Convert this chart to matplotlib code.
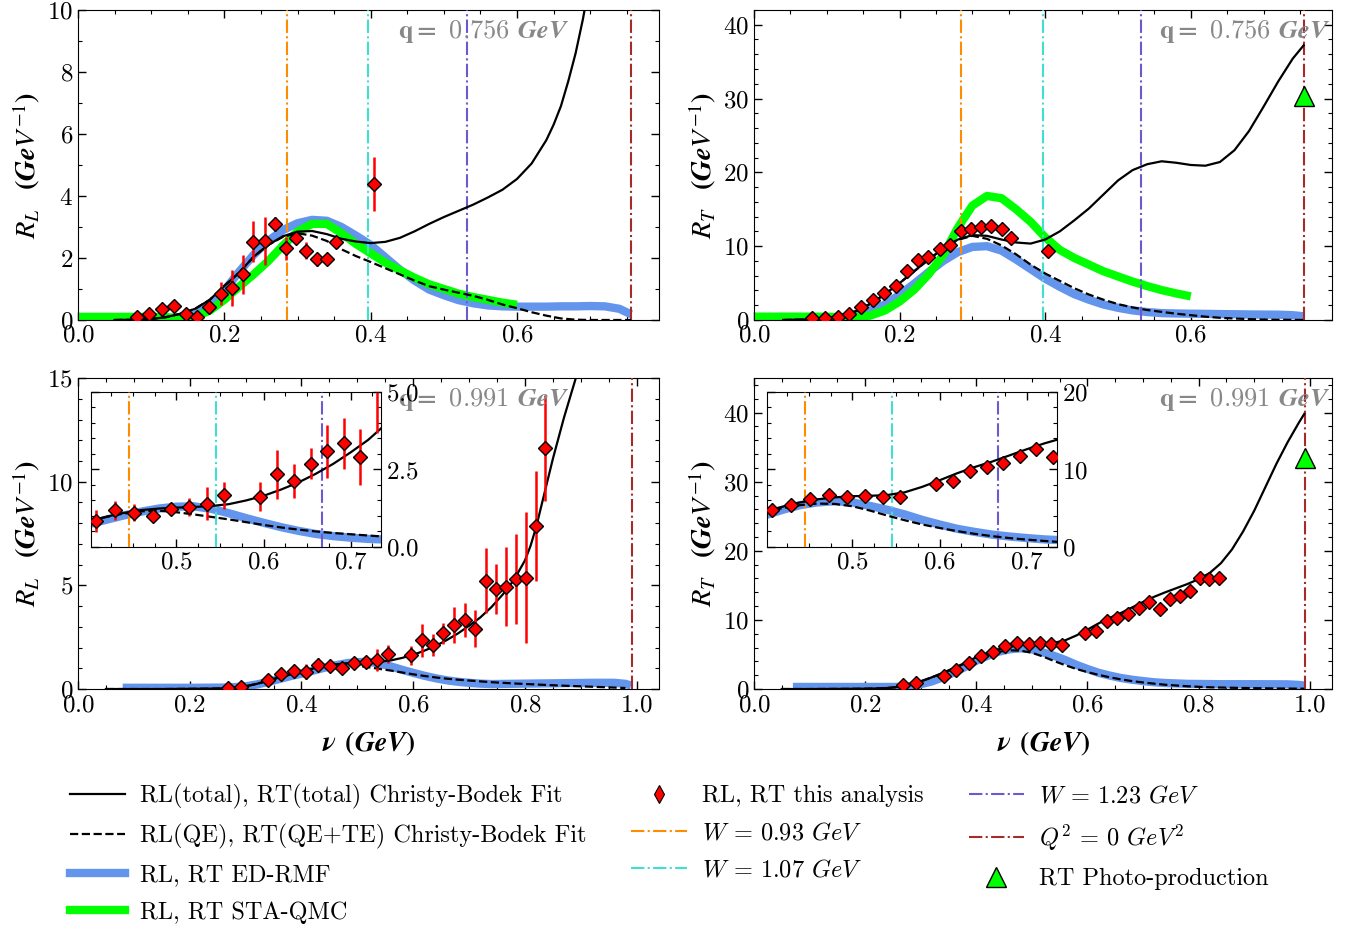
# R_L and R_T response functions at q = 0.756 and 0.991 GeV

import matplotlib
matplotlib.use('Agg')
import matplotlib.pyplot as plt
from matplotlib.lines import Line2D
from matplotlib.ticker import MultipleLocator, AutoMinorLocator

plt.rcParams.update({
    'font.family': 'serif',
    'font.serif': ['cmr10'],
    'mathtext.fontset': 'cm',
    'axes.formatter.use_mathtext': True,
    'font.size': 18,
})

# ---------------- q = 0.756 GeV ----------------
nu_756_data = [0.080, 0.097, 0.115, 0.131, 0.147, 0.163, 0.179, 0.195, 0.210, 0.225,
               0.239, 0.255, 0.269, 0.284, 0.298, 0.312, 0.326, 0.340, 0.353, 0.404]
RL_756_data = [0.09, 0.18, 0.35, 0.46, 0.18, 0.11, 0.43, 0.85, 1.02, 1.47,
               2.53, 2.55, 3.09, 2.31, 2.63, 2.23, 1.96, 1.96, 2.53, 4.40]
RL_756_err = [0.05, 0.05, 0.08, 0.08, 0.10, 0.10, 0.15, 0.37, 0.58, 0.64,
              0.66, 0.77, 0.22, 0.38, 0.12, 0.27, 0.21, 0.10, 0.15, 0.87]
RT_756_data = [0.23, 0.23, 0.45, 0.77, 1.82, 2.73, 3.64, 4.64, 6.59, 8.09,
               8.50, 9.68, 10.2, 12.05, 12.27, 12.64, 12.73, 12.36, 11.05, 9.41]
RT_756_err = [0.1, 0.1, 0.1, 0.15, 0.2, 0.2, 0.2, 0.25, 0.3, 0.3,
              0.3, 0.3, 0.3, 0.35, 0.35, 0.35, 0.35, 0.35, 0.35, 0.4]

nu_RL_756_tot = [0.05, 0.08, 0.10, 0.12, 0.14, 0.16, 0.18, 0.20, 0.22, 0.24, 0.26,
                 0.28, 0.30, 0.32, 0.34, 0.36, 0.38, 0.40, 0.42, 0.44, 0.46, 0.48,
                 0.50, 0.52, 0.54, 0.56, 0.58, 0.60, 0.62, 0.64, 0.65, 0.66, 0.67,
                 0.68, 0.69, 0.70]
RL_756_tot = [0.0, 0.01, 0.03, 0.09, 0.2, 0.36, 0.65, 1.1, 1.52, 2.04, 2.42,
              2.7, 2.85, 2.87, 2.77, 2.62, 2.53, 2.48, 2.52, 2.65, 2.86, 3.1,
              3.32, 3.52, 3.72, 3.95, 4.2, 4.55, 5.05, 5.8, 6.3, 6.9, 7.7,
              8.6, 9.7, 11.0]

nu_RL_756_qe = [0.05, 0.08, 0.10, 0.12, 0.14, 0.16, 0.18, 0.20, 0.22, 0.24, 0.26,
                0.28, 0.30, 0.32, 0.34, 0.36, 0.38, 0.40, 0.42, 0.44, 0.46, 0.48,
                0.50, 0.52, 0.54, 0.56, 0.58, 0.60, 0.62, 0.64, 0.66, 0.68, 0.70,
                0.72, 0.74, 0.756]
RL_756_qe = [0.0, 0.01, 0.03, 0.09, 0.2, 0.36, 0.65, 1.1, 1.52, 2.04, 2.42,
             2.68, 2.8, 2.72, 2.55, 2.28, 2.06, 1.87, 1.67, 1.47, 1.27, 1.09,
             0.98, 0.88, 0.78, 0.65, 0.5, 0.38, 0.25, 0.14, 0.05, 0.01, 0.0,
             0.0, 0.0, 0.0]

nu_RL_756_rmf = [0.08, 0.12, 0.14, 0.16, 0.18, 0.20, 0.22, 0.24, 0.26, 0.28, 0.30,
                 0.32, 0.34, 0.36, 0.38, 0.40, 0.42, 0.44, 0.46, 0.48, 0.50, 0.52,
                 0.54, 0.56, 0.58, 0.60, 0.62, 0.64, 0.66, 0.68, 0.70, 0.72, 0.74,
                 0.756]
RL_756_rmf = [0.03, 0.05, 0.08, 0.17, 0.45, 0.95, 1.55, 2.1, 2.55, 2.9, 3.12,
              3.23, 3.2, 3.0, 2.72, 2.42, 2.02, 1.62, 1.27, 0.98, 0.8, 0.64,
              0.54, 0.47, 0.44, 0.43, 0.43, 0.43, 0.44, 0.44, 0.45, 0.44, 0.36,
              0.18]

nu_RL_756_qmc = [0.0, 0.04, 0.08, 0.12, 0.14, 0.16, 0.18, 0.20, 0.22, 0.24, 0.26,
                 0.28, 0.30, 0.32, 0.34, 0.36, 0.38, 0.40, 0.42, 0.44, 0.46, 0.48,
                 0.50, 0.52, 0.54, 0.56, 0.58, 0.60]
RL_756_qmc = [0.1, 0.1, 0.1, 0.09, 0.06, 0.1, 0.3, 0.65, 1.07, 1.47, 1.9,
              2.4, 2.85, 3.1, 3.1, 2.8, 2.45, 2.15, 1.85, 1.6, 1.36, 1.15,
              1.0, 0.85, 0.74, 0.65, 0.56, 0.49]

nu_RT_756_tot = [0.04, 0.08, 0.10, 0.12, 0.14, 0.16, 0.18, 0.20, 0.22, 0.24, 0.26,
                 0.28, 0.30, 0.32, 0.34, 0.36, 0.38, 0.40, 0.42, 0.44, 0.46, 0.48,
                 0.50, 0.52, 0.54, 0.56, 0.58, 0.60, 0.62, 0.64, 0.66, 0.68, 0.70,
                 0.72, 0.74, 0.755]
RT_756_tot = [0.0, 0.1, 0.25, 0.55, 1.2, 2.2, 3.5, 5.0, 6.6, 8.2, 9.7,
              10.9, 11.5, 11.4, 10.9, 10.5, 10.35, 10.9, 12.0, 13.5, 15.1, 17.0,
              18.9, 20.3, 21.1, 21.5, 21.3, 21.0, 20.9, 21.4, 23.0, 25.6, 28.9,
              32.3, 35.4, 37.2]
RT_756_qe = [0.0, 0.1, 0.25, 0.55, 1.2, 2.2, 3.5, 5.0, 6.6, 8.2, 9.7,
             10.85, 11.4, 11.0, 10.1, 8.9, 7.5, 6.3, 5.3, 4.3, 3.45, 2.75,
             2.15, 1.7, 1.35, 1.1, 0.85, 0.65, 0.45, 0.3, 0.2, 0.12, 0.06,
             0.03, 0.02, 0.0]

nu_RT_756_rmf = [0.08, 0.10, 0.12, 0.14, 0.16, 0.18, 0.20, 0.22, 0.24, 0.26, 0.28,
                 0.30, 0.32, 0.34, 0.36, 0.38, 0.40, 0.42, 0.44, 0.46, 0.48, 0.50,
                 0.52, 0.54, 0.56, 0.58, 0.60, 0.62, 0.64, 0.66, 0.68, 0.70, 0.72,
                 0.74, 0.755]
RT_756_rmf = [0.05, 0.1, 0.3, 0.7, 1.3, 2.1, 3.4, 4.9, 6.5, 8.0, 9.2,
              9.9, 10.0, 9.4, 8.2, 6.9, 5.6, 4.5, 3.5, 2.75, 2.1, 1.65,
              1.3, 1.08, 0.93, 0.88, 0.85, 0.83, 0.8, 0.78, 0.75, 0.73, 0.72,
              0.65, 0.5]

nu_RT_756_qmc = [0.0, 0.04, 0.08, 0.12, 0.14, 0.16, 0.18, 0.20, 0.22, 0.24, 0.26,
                 0.28, 0.30, 0.32, 0.34, 0.36, 0.38, 0.40, 0.42, 0.44, 0.46, 0.48,
                 0.50, 0.52, 0.54, 0.56, 0.58, 0.60]
RT_756_qmc = [0.45, 0.45, 0.45, 0.4, 0.4, 0.6, 1.3, 2.5, 4.1, 6.2, 8.8,
              12.5, 15.5, 16.8, 16.5, 15.0, 13.3, 11.2, 9.5, 8.4, 7.5, 6.6,
              5.9, 5.2, 4.6, 4.05, 3.6, 3.2]

# ---------------- q = 0.991 GeV ----------------
nu_991_data = [0.268, 0.291, 0.341, 0.364, 0.386, 0.408, 0.430, 0.451, 0.473, 0.494,
               0.515, 0.535, 0.555, 0.596, 0.616, 0.635, 0.654, 0.673, 0.692, 0.711,
               0.730, 0.748, 0.766, 0.784, 0.802, 0.819, 0.836]
RL_991_data = [0.04, 0.12, 0.43, 0.72, 0.88, 0.84, 1.18, 1.10, 1.00, 1.24,
               1.29, 1.40, 1.67, 1.62, 2.35, 2.12, 2.68, 3.08, 3.34, 2.90,
               5.23, 4.82, 4.93, 5.31, 5.37, 7.88, 11.64]
RL_991_err = [0.05, 0.05, 0.12, 0.25, 0.30, 0.36, 0.30, 0.27, 0.15, 0.19,
              0.28, 0.54, 0.43, 0.47, 0.79, 0.55, 0.50, 0.87, 0.83, 0.89,
              1.55, 1.20, 1.90, 2.15, 3.15, 2.65, 2.55]
RT_991_data = [0.59, 0.83, 1.95, 2.8, 3.8, 4.8, 5.4, 6.2, 6.7, 6.5,
               6.6, 6.5, 6.4, 8.1, 8.45, 9.8, 10.3, 10.85, 11.75, 12.6,
               11.6, 13.0, 13.45, 14.2, 16.1, 15.9, 16.1]
RT_991_err = [0.1, 0.1, 0.15, 0.2, 0.2, 0.2, 0.25, 0.25, 0.25, 0.25,
              0.25, 0.25, 0.25, 0.3, 0.3, 0.3, 0.3, 0.35, 0.35, 0.4,
              0.5, 0.5, 0.5, 0.6, 0.9, 0.7, 0.7]

nu_RL_991_tot = [0.05, 0.10, 0.15, 0.20, 0.24, 0.26, 0.28, 0.30, 0.32, 0.34, 0.36,
                 0.38, 0.40, 0.42, 0.44, 0.46, 0.48, 0.50, 0.52, 0.54, 0.56, 0.58,
                 0.60, 0.62, 0.64, 0.66, 0.68, 0.70, 0.72, 0.74, 0.76, 0.78, 0.80,
                 0.81, 0.82, 0.83, 0.84, 0.85, 0.86, 0.87, 0.88, 0.89, 0.90]
RL_991_tot = [0.0, 0.0, 0.0, 0.01, 0.02, 0.03, 0.07, 0.13, 0.25, 0.4, 0.56,
              0.7, 0.83, 0.98, 1.1, 1.19, 1.24, 1.27, 1.29, 1.32, 1.38, 1.5,
              1.65, 1.85, 2.08, 2.36, 2.68, 3.05, 3.45, 3.95, 4.55, 5.25, 6.2,
              6.9, 7.8, 8.9, 10.0, 11.1, 12.1, 13.1, 14.0, 14.9, 15.8]

nu_RL_991_qe = [0.05, 0.10, 0.15, 0.20, 0.24, 0.26, 0.28, 0.30, 0.32, 0.34, 0.36,
                0.38, 0.40, 0.42, 0.44, 0.46, 0.48, 0.50, 0.52, 0.54, 0.56, 0.58,
                0.60, 0.62, 0.64, 0.66, 0.68, 0.70, 0.72, 0.74, 0.78, 0.82, 0.86,
                0.90, 0.94, 0.98]
RL_991_qe = [0.0, 0.0, 0.0, 0.01, 0.02, 0.03, 0.07, 0.13, 0.25, 0.4, 0.56,
             0.7, 0.83, 0.97, 1.08, 1.15, 1.17, 1.12, 1.05, 0.97, 0.89, 0.8,
             0.71, 0.63, 0.56, 0.5, 0.45, 0.41, 0.37, 0.33, 0.27, 0.22, 0.17,
             0.13, 0.09, 0.05]

nu_RL_991_rmf = [0.08, 0.15, 0.20, 0.26, 0.28, 0.30, 0.32, 0.34, 0.36, 0.38, 0.40,
                 0.42, 0.44, 0.46, 0.48, 0.50, 0.52, 0.54, 0.56, 0.58, 0.60, 0.62,
                 0.64, 0.66, 0.68, 0.70, 0.72, 0.74, 0.80, 0.86, 0.92, 0.96, 0.98,
                 0.99]
RL_991_rmf = [0.06, 0.06, 0.06, 0.07, 0.09, 0.13, 0.22, 0.34, 0.48, 0.62, 0.74,
              0.88, 1.02, 1.14, 1.24, 1.3, 1.31, 1.23, 1.09, 0.93, 0.78, 0.64,
              0.52, 0.42, 0.35, 0.3, 0.26, 0.24, 0.26, 0.28, 0.3, 0.3, 0.25,
              0.17]

nu_RT_991_tot = [0.05, 0.10, 0.15, 0.20, 0.22, 0.24, 0.26, 0.28, 0.30, 0.32, 0.34,
                 0.36, 0.38, 0.40, 0.42, 0.44, 0.46, 0.48, 0.50, 0.52, 0.54, 0.56,
                 0.58, 0.60, 0.62, 0.64, 0.66, 0.68, 0.70, 0.72, 0.74, 0.76, 0.78,
                 0.80, 0.82, 0.84, 0.86, 0.88, 0.90, 0.92, 0.94, 0.96, 0.98, 0.99]
RT_991_tot = [0.0, 0.0, 0.02, 0.05, 0.08, 0.15, 0.3, 0.6, 1.1, 1.7, 2.35,
              3.05, 3.8, 4.6, 5.2, 5.75, 6.15, 6.4, 6.55, 6.6, 6.7, 7.05,
              7.75, 8.6, 9.5, 10.3, 11.0, 11.8, 12.6, 13.35, 14.0, 14.6, 15.2,
              15.9, 16.8, 18.2, 20.2, 22.8, 25.8, 29.2, 32.6, 35.7, 38.5, 39.8]

nu_RT_991_qe = [0.05, 0.10, 0.15, 0.20, 0.22, 0.24, 0.26, 0.28, 0.30, 0.32, 0.34,
                0.36, 0.38, 0.40, 0.42, 0.44, 0.46, 0.48, 0.50, 0.52, 0.54, 0.56,
                0.58, 0.60, 0.62, 0.64, 0.66, 0.68, 0.70, 0.72, 0.74, 0.78, 0.82,
                0.88, 0.94, 0.99]
RT_991_qe = [0.0, 0.0, 0.02, 0.05, 0.08, 0.15, 0.3, 0.6, 1.1, 1.7, 2.3,
             3.0, 3.7, 4.6, 5.0, 5.4, 5.6, 5.55, 5.25, 4.7, 4.05, 3.45,
             2.9, 2.45, 2.05, 1.7, 1.4, 1.15, 0.95, 0.78, 0.62, 0.4, 0.25,
             0.15, 0.08, 0.05]

nu_RT_991_rmf = [0.07, 0.15, 0.22, 0.26, 0.28, 0.30, 0.32, 0.34, 0.36, 0.38, 0.40,
                 0.42, 0.44, 0.46, 0.48, 0.50, 0.52, 0.54, 0.56, 0.58, 0.60, 0.62,
                 0.64, 0.66, 0.68, 0.70, 0.72, 0.74, 0.78, 0.84, 0.90, 0.96, 0.98,
                 0.99]
RT_991_rmf = [0.3, 0.3, 0.3, 0.3, 0.4, 0.7, 1.1, 1.7, 2.4, 3.2, 4.1,
              4.8, 5.4, 5.75, 5.9, 5.75, 5.3, 4.8, 4.2, 3.5, 2.9, 2.35,
              1.95, 1.6, 1.35, 1.15, 0.98, 0.87, 0.75, 0.7, 0.7, 0.68, 0.6,
              0.5]

# photo-production points, W lines
photo_nu = [0.756, 0.991]
photo_RT = [30.3, 33.4]
W_lines_756 = [0.285, 0.397, 0.531]
W_lines_991 = [0.446, 0.545, 0.667]
W_colors = ['darkorange', 'turquoise', 'slateblue']
Q2_color = 'brown'

C_RMF = 'cornflowerblue'
C_QMC = 'lime'


def ticks(ax, xmaj, ymaj, xmin_n, ymin_n, size=18):
    ax.xaxis.set_major_locator(MultipleLocator(xmaj))
    ax.yaxis.set_major_locator(MultipleLocator(ymaj))
    ax.xaxis.set_minor_locator(AutoMinorLocator(xmin_n))
    ax.yaxis.set_minor_locator(AutoMinorLocator(ymin_n))
    ax.tick_params(which='both', direction='in', top=True, right=True,
                   labelsize=size)
    ax.tick_params(which='major', length=6, width=1)
    ax.tick_params(which='minor', length=3, width=0.8)


def curves(ax, nu_tot, tot, nu_qe, qe, nu_rmf, rmf, nu_qmc=None, qmc=None):
    ax.plot(nu_rmf, rmf, color=C_RMF, lw=6, solid_capstyle='butt', zorder=2)
    if qmc is not None:
        ax.plot(nu_qmc, qmc, color=C_QMC, lw=6, solid_capstyle='butt', zorder=2)
    ax.plot(nu_tot, tot, color='black', lw=1.6, zorder=4)
    ax.plot(nu_qe, qe, color='black', lw=1.6, ls='--', zorder=4)


def points(ax, nu, val, err):
    ax.errorbar(nu, val, yerr=err, fmt='D', ms=7, mfc='red', mec='black',
                mew=1, ecolor='red', elinewidth=1.8, capsize=0, zorder=5)


def wlines(ax, lines):
    for x, c in zip(lines, W_colors):
        ax.axvline(x, color=c, ls='-.', lw=1.5, zorder=3)


def qtext(ax, q, x):
    ax.text(x, 0.93, r'$\mathbf{q=}$ ' + q + r' $\boldsymbol{GeV}$',
            transform=ax.transAxes, color='#888888', fontsize=19,
            ha='left', va='center', zorder=6, math_fontfamily='stix')


fig = plt.figure(figsize=(13.61, 9.31), dpi=100)

ax1 = fig.add_axes([0.0573, 0.6563, 0.4269, 0.3330])
ax2 = fig.add_axes([0.5540, 0.6563, 0.4247, 0.3330])
ax3 = fig.add_axes([0.0573, 0.2599, 0.4269, 0.3340])
ax4 = fig.add_axes([0.5540, 0.2599, 0.4247, 0.3340])

ylab_L = r'$\boldsymbol{R_L}$  $\boldsymbol{(GeV^{-1})}$'
ylab_T = r'$\boldsymbol{R_T}$  $\boldsymbol{(GeV^{-1})}$'
xlab = r'$\boldsymbol{\nu}$ $\boldsymbol{(GeV)}$'
ylab_kw = dict(fontsize=20.5, math_fontfamily='stix')
xlab_kw = dict(fontsize=20, math_fontfamily='stix', labelpad=10)

# top left
curves(ax1, nu_RL_756_tot, RL_756_tot, nu_RL_756_qe, RL_756_qe,
       nu_RL_756_rmf, RL_756_rmf, nu_RL_756_qmc, RL_756_qmc)
wlines(ax1, W_lines_756)
ax1.axvline(0.756, color=Q2_color, ls='-.', lw=1.5, zorder=3)
points(ax1, nu_756_data, RL_756_data, RL_756_err)
ax1.set_xlim(0, 0.794)
ax1.set_ylim(0, 10)
ticks(ax1, 0.2, 2, 4, 2)
ax1.set_ylabel(ylab_L, **ylab_kw)
qtext(ax1, '0.756', 0.55)

# top right
curves(ax2, nu_RT_756_tot, RT_756_tot, nu_RT_756_tot, RT_756_qe,
       nu_RT_756_rmf, RT_756_rmf, nu_RT_756_qmc, RT_756_qmc)
wlines(ax2, W_lines_756)
ax2.axvline(0.756, color=Q2_color, ls='-.', lw=1.5, zorder=3)
points(ax2, nu_756_data, RT_756_data, RT_756_err)
ax2.plot(photo_nu[0], photo_RT[0], '^', ms=15, mfc=C_QMC, mec='black',
         mew=1, zorder=6)
ax2.set_xlim(0, 0.794)
ax2.set_ylim(0, 42)
ticks(ax2, 0.2, 10, 4, 5)
ax2.set_ylabel(ylab_T, **ylab_kw)
qtext(ax2, '0.756', 0.70)

# bottom left
curves(ax3, nu_RL_991_tot, RL_991_tot, nu_RL_991_qe, RL_991_qe,
       nu_RL_991_rmf, RL_991_rmf)
ax3.axvline(0.991, color=Q2_color, ls='-.', lw=1.5, zorder=3)
points(ax3, nu_991_data, RL_991_data, RL_991_err)
ax3.set_xlim(0, 1.04)
ax3.set_ylim(0, 15)
ticks(ax3, 0.2, 5, 4, 5)
ax3.set_ylabel(ylab_L, **ylab_kw)
ax3.set_xlabel(xlab, **xlab_kw)
qtext(ax3, '0.991', 0.55)

# bottom right
curves(ax4, nu_RT_991_tot, RT_991_tot, nu_RT_991_qe, RT_991_qe,
       nu_RT_991_rmf, RT_991_rmf)
ax4.axvline(0.991, color=Q2_color, ls='-.', lw=1.5, zorder=3)
points(ax4, nu_991_data, RT_991_data, RT_991_err)
ax4.plot(photo_nu[1], photo_RT[1], '^', ms=15, mfc=C_QMC, mec='black',
         mew=1, zorder=6)
ax4.set_xlim(0, 1.04)
ax4.set_ylim(0, 45)
ticks(ax4, 0.2, 10, 4, 5)
ax4.set_ylabel(ylab_T, **ylab_kw)
ax4.set_xlabel(xlab, **xlab_kw)
qtext(ax4, '0.991', 0.70)

# insets
ins3 = fig.add_axes([0.0669, 0.4125, 0.2131, 0.1665])
curves(ins3, nu_RL_991_tot, RL_991_tot, nu_RL_991_qe, RL_991_qe,
       nu_RL_991_rmf, RL_991_rmf)
wlines(ins3, W_lines_991)
points(ins3, nu_991_data, RL_991_data, RL_991_err)
ins3.set_xlim(0.402, 0.735)
ins3.set_ylim(0, 5)
ticks(ins3, 0.1, 2.5, 4, 5)
ins3.tick_params(labelleft=False, labelright=True)

ins4 = fig.add_axes([0.5636, 0.4125, 0.2131, 0.1665])
curves(ins4, nu_RT_991_tot, RT_991_tot, nu_RT_991_qe, RT_991_qe,
       nu_RT_991_rmf, RT_991_rmf)
wlines(ins4, W_lines_991)
points(ins4, nu_991_data, RT_991_data, RT_991_err)
ins4.set_xlim(0.402, 0.735)
ins4.set_ylim(0, 20)
ticks(ins4, 0.1, 10, 4, 5)
ins4.tick_params(labelleft=False, labelright=True)

# legend
handles = [
    Line2D([], [], color='black', lw=1.6),
    Line2D([], [], color='black', lw=1.6, ls='--'),
    Line2D([], [], color=C_RMF, lw=6),
    Line2D([], [], color=C_QMC, lw=6),
    Line2D([], [], ls='none', marker='d', ms=9, mfc='red', mec='black', mew=0.8),
    Line2D([], [], color=W_colors[0], ls='-.', lw=1.5),
    Line2D([], [], color=W_colors[1], ls='-.', lw=1.5),
    Line2D([], [], color=W_colors[2], ls='-.', lw=1.5),
    Line2D([], [], color=Q2_color, ls='-.', lw=1.5),
    Line2D([], [], ls='none', marker='^', ms=15, mfc=C_QMC, mec='black', mew=1),
]
labels = [
    'RL(total), RT(total) Christy-Bodek Fit',
    'RL(QE), RT(QE+TE) Christy-Bodek Fit',
    'RL, RT ED-RMF',
    'RL, RT STA-QMC',
    'RL, RT this analysis',
    r'$W$ = 0.93 $GeV$',
    r'$W$ = 1.07 $GeV$',
    r'$W$ = 1.23 $GeV$',
    r'$Q^2$ = 0 $GeV^2$',
    'RT Photo-production',
]
fig.legend(handles, labels, loc='upper left', bbox_to_anchor=(0.035, 0.1815),
           ncol=3, frameon=False, fontsize=17.5, handlelength=2.3,
           handletextpad=0.6, columnspacing=1.85, labelspacing=0.62)

fig.savefig('out.png', dpi=100)
